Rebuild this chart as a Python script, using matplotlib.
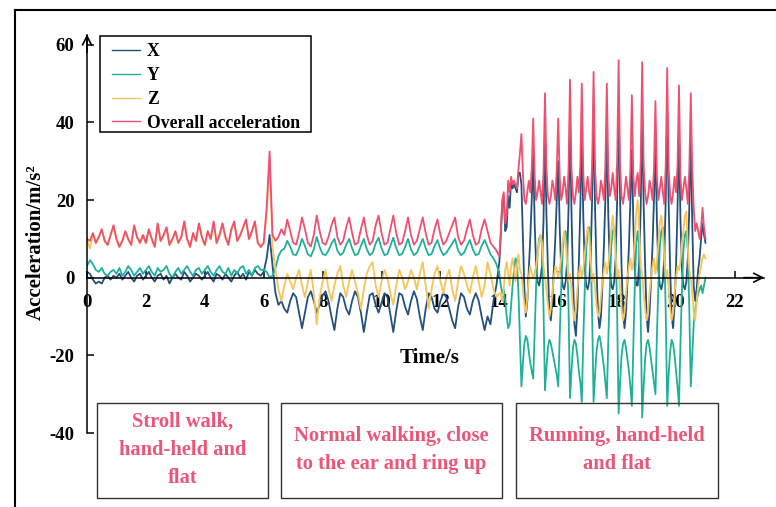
import numpy as np
import matplotlib
matplotlib.use("Agg")
import matplotlib.pyplot as plt
from matplotlib.patches import Rectangle
from matplotlib.lines import Line2D

#========= Data ===========
# 0 - 14 s sampled every 0.1 s, 14 - 21 s sampled every 0.05 s
t_slow = np.round(np.arange(0, 141) * 0.1, 2)
t_run = np.round(14.0 + np.arange(1, 141) * 0.05, 2)

x_slow = [1.5, 1.0, -0.5, -1.5, -1.0, -1.5, 0.0, 0.5, -0.5, 0.5,
          0.0, 1.0, -0.5, 0.5, 1.5, 0.0, -1.0, 0.5, 1.0, -0.5,
          0.5, 1.5, 0.0, -1.0, 0.5, 1.0, -0.5, 0.5, -1.5, 0.0,
          1.0, 0.0, -0.5, 1.5, 0.5, -1.0, 0.0, 1.0, 0.5, -0.5,
          0.5, 1.5, 0.0, -1.0, 1.0, 0.5, -0.5, 1.0, 0.0, -1.0,
          0.5, 1.5, 0.0, 1.0, -0.5, 1.5, 0.5, 2.0, 1.0, 0.5,
          1.5, 5.0, 11.0, 3.0, -4.0, -7.0, -6.0, -8.0, -9.0, -6.0,
          -4.0, -5.0, -9.0, -13.0, -9.0, -5.0, -3.5, -6.0, -9.0, -7.0,
          -4.5, -3.5, -6.0, -10.0, -13.5, -8.0, -4.0, -5.0, -8.0, -9.5,
          -6.0, -3.5, -5.0, -9.0, -14.0, -9.0, -4.5, -4.0, -7.0, -9.0,
          -6.5, -4.0, -5.0, -9.5, -14.0, -8.5, -4.0, -4.5, -7.5, -9.5,
          -6.0, -3.5, -5.5, -10.0, -13.5, -8.0, -4.0, -5.0, -8.0, -9.0,
          -6.0, -4.0, -5.0, -8.0, -11.0, -13.0, -7.5, -4.0, -5.0, -8.0,
          -9.5, -6.0, -4.0, -6.0, -10.0, -13.5, -10.0, -12.0, -6.0, -2.0,
          4.0]
y_slow = [3.0, 4.5, 3.5, 2.0, 1.5, 2.5, 1.0, 0.5, 1.5, 2.0,
          1.0, 2.5, 0.5, 1.5, 3.0, 2.0, 0.5, 1.5, 2.5, 1.0,
          2.0, 3.0, 1.5, 0.5, 2.5, 1.5, 2.0, 3.0, 1.0, 0.0,
          1.5, 2.5, 1.0, 2.0, 3.0, 1.5, 0.5, 2.0, 2.5, 1.0,
          2.0, 3.0, 1.5, 0.5, 2.0, 3.0, 1.5, 1.0, 2.5, 0.5,
          2.0, 1.0, 2.5, 3.0, 1.0, 2.0, 0.5, 2.5, 3.0, 2.0,
          2.0, 1.5, 0.0, 0.5, 2.5, 5.5, 7.0, 7.5, 9.5, 8.0,
          6.0, 5.8, 7.6, 10.0, 8.2, 6.0, 5.5, 7.3, 10.5, 7.9,
          6.1, 5.8, 7.0, 8.8, 10.0, 7.0, 5.8, 6.4, 8.5, 10.0,
          7.6, 5.8, 6.1, 8.2, 10.0, 7.3, 5.8, 6.4, 8.8, 10.3,
          7.6, 5.8, 6.1, 8.2, 10.3, 7.6, 5.8, 6.1, 7.9, 10.0,
          7.3, 5.8, 6.4, 8.2, 10.0, 7.6, 5.8, 6.1, 8.2, 9.7,
          7.3, 5.8, 6.4, 7.6, 8.8, 10.0, 7.0, 5.8, 6.4, 8.2,
          9.7, 7.3, 5.8, 6.1, 8.2, 9.7, 7.9, 6.0, 5.0, 3.5,
          1.0]
z_slow = [9.8, 7.5, 11.3, 8.8, 10.3, 12.3, 9.3, 8.3, 10.8, 13.3,
          9.8, 7.8, 9.3, 11.8, 9.8, 8.3, 13.3, 10.3, 8.8, 10.8,
          8.8, 12.3, 9.8, 7.8, 13.8, 9.3, 10.8, 12.8, 8.3, 9.8,
          11.8, 8.8, 10.3, 14.3, 9.8, 7.8, 11.3, 9.3, 13.8, 10.3,
          8.3, 11.8, 9.8, 14.3, 8.8, 10.8, 13.8, 10.3, 8.3, 12.3,
          14.3, 9.3, 10.8, 12.8, 14.8, 9.8, 11.8, 14.3, 8.8, 7.8,
          8.8, 16.5, 30.5, 8.0, 2.0, -3.0, -6.0, -2.0, 1.0, -1.0,
          -3, 0, 2, -2, -5, -1, 2, -4, -12, -5,
          -1, 2, -3, -6, -2, 1, 3, -2, -5, -1,
          2, -1, -4, -8, -3, 1, 3, 4, -2, -5,
          -1, 2, 0, -4, -7, -2, 2, 0, -3, -1,
          2, 0, -3, 1, 4, -2, -8, -3, 1, 3,
          -1, -4, 0, 2, -3, -6, -1, 3, 1, -2,
          -4, 0, 3, -1, -5, -2, 4, 1, -3, -5,
          -4]
overall_slow = [10.0, 9.5, 11.5, 9.0, 10.5, 12.5, 9.5, 8.5, 11.0, 13.5,
                10.0, 8.0, 9.5, 12.0, 10.0, 8.5, 13.5, 10.5, 9.0, 11.0,
                9.0, 12.5, 10.0, 8.0, 14.0, 9.5, 11.0, 13.0, 8.5, 10.0,
                12.0, 9.0, 10.5, 14.5, 10.0, 8.0, 11.5, 9.5, 14.0, 10.5,
                8.5, 12.0, 10.0, 14.5, 9.0, 11.0, 14.0, 10.5, 8.5, 12.5,
                14.5, 9.5, 11.0, 13.0, 15.0, 10.0, 12.0, 14.5, 9.0, 8.0,
                9.0, 18.0, 32.5, 11.0, 9.5, 10.5, 12.5, 11.0, 15.0, 12.0,
                9.0, 8.5, 11.5, 15.5, 12.5, 9.0, 8.0, 11.0, 16.0, 12.0,
                9.0, 8.5, 10.5, 13.5, 15.5, 10.5, 8.5, 9.5, 13.0, 15.5,
                11.5, 8.5, 9.0, 12.5, 15.5, 11.0, 8.5, 9.5, 13.5, 16.0,
                11.5, 8.5, 9.0, 12.5, 16.0, 11.5, 8.5, 9.0, 12.0, 15.5,
                11.0, 8.5, 9.5, 12.5, 15.5, 11.5, 8.5, 9.0, 12.5, 15.0,
                11.0, 8.5, 9.5, 11.5, 13.5, 15.5, 10.5, 8.5, 9.5, 12.5,
                15.0, 11.0, 8.5, 9.0, 12.5, 15.0, 12.0, 9.0, 8.0, 7.0,
                5.5]

x_run = [11, 19, 21, 12, 13, 21, 18, 25, 23, 24, 23, 22, 27, 27, 24, 10, -3, -10, -6, 2,
         10, 20, 32, 14, 3, -1, -2, 0, 3, 15, 38, 16, 2, -9, -11, -6, 2, 10, 20, 30,
         13, 2, -2, -3, -1, 4, 18, 40, 17, 0, -12, -15, -8, 4, 18, 38, 16, 3, -2, -3,
         -1, 5, 20, 42, 18, 2, -9, -13, -10, -2, 8, 20, 39, 16, 3, -2, -3, -1, 5, 20,
         44, 20, 3, -9, -13, -9, -1, 8, 20, 33, 14, 2, -2, -2, 4, 18, 42, 19, 3, -10,
         -14, -9, -1, 8, 20, 34, 15, 2, -2, -3, -1, 5, 20, 43, 19, 2, -10, -13, -7, 3,
         18, 37, 15, 2, -2, -3, -1, 5, 18, 38, 14, -2, -6, -3, 2, 5, 10, 14, 11, 9]
y_run = [-2, -4, -3, -6, -10, -13, -12, -7, -2, 2, 5, 4, -4, -16, -28, -22, -17, -15, -16, -19,
         -22, -24, -26, -14, -2, 6, 10, 11, 8, -8, -29, -23, -18, -16, -17, -19, -21, -23, -25, -28,
         -15, -3, 7, 11, 12, 8, -8, -31, -24, -18, -16, -17, -20, -24, -27, -32, -16, -3, 7, 12,
         13, 8, -9, -32, -25, -19, -16, -15, -17, -20, -23, -27, -31, -16, -3, 8, 12, 13, 9, -9,
         -35, -27, -20, -17, -16, -18, -21, -24, -28, -33, -17, -2, 9, 12, 8, -10, -36, -28, -21, -17,
         -16, -18, -21, -24, -27, -30, -15, -2, 8, 12, 13, 8, -9, -33, -25, -19, -16, -17, -20, -24,
         -28, -33, -17, -3, 7, 11, 12, 7, -8, -28, -20, -12, -8, -6, -4, -3, -2, -4, -2, 0]
z_run = [-4, -6, -3, 2, 4, 1, -2, 3, 5, 2, -1, 3, 6, 2, 1, -3, -7, -9, -5, 0,
         3, 1, 0, 1, 3, 6, 9, 11, 9, 3, 0, -3, -7, -10, -8, -4, 0, 3, 2, 0,
         2, 5, 9, 12, 9, 4, -1, 1, -3, -8, -11, -8, -3, 1, 3, 0, 2, 6, 10, 13,
         11, 5, -1, 1, -3, -7, -10, -9, -5, -1, 2, 4, 1, 3, 7, 12, 16, 12, 6, 0,
         2, -3, -8, -11, -9, -4, 0, 3, 5, 2, 4, 10, 17, 20, 12, 3, 1, -4, -8, -11,
         -9, -4, 0, 3, 5, 1, 4, 9, 14, 16, 12, 5, 0, 2, -3, -8, -11, -9, -4, 0,
         3, 2, 4, 9, 12, 16, 17, 8, 2, 0, -4, -9, -11, -6, -2, 1, 3, 5, 6, 5]
overall_run = [12, 20, 22, 14, 16, 25, 22, 26, 24, 25, 24, 23, 28, 32, 37, 27, 20, 19, 22, 25,
               22, 28, 41, 26, 20, 22, 25, 22, 19, 27, 47.5, 28, 21, 19, 21, 25, 23, 20, 28, 41,
               26, 20, 22, 26, 23, 19, 28, 51, 28, 21, 19, 22, 26, 22, 29, 50, 27, 20, 23, 26,
               22, 20, 29, 53, 28, 21, 19, 21, 25, 23, 20, 29, 50, 27, 21, 23, 27, 23, 20, 30,
               56, 29, 21, 19, 22, 26, 23, 20, 28, 47, 26, 21, 25, 27, 21, 30, 55.5, 29, 22, 19,
               21, 25, 23, 20, 28, 45.5, 26, 20, 23, 26, 22, 19, 29, 54, 28, 21, 19, 22, 26, 22,
               29, 49.5, 26, 20, 23, 26, 23, 19, 28, 47.5, 28, 18, 12, 14, 12, 10, 13, 18, 13, 10]

labels = ["X", "Y", "Z", "Overall acceleration"]
colors = ["#24507c", "#1fb09a", "#f5c55a", "#f0506f"]
phases = ["Stroll walk,\nhand-held and\nflat",
          "Normal walking, close\nto the ear and ring up",
          "Running, hand-held\nand flat"]
x_ticks = list(range(0, 23, 2))
y_ticks = [-40, -20, 0, 20, 40, 60]

#========= Figure ===========
plt.rcParams['font.family'] = ['Liberation Serif', 'DejaVu Serif']
plt.rcParams['font.weight'] = 'bold'
plt.rcParams['axes.unicode_minus'] = False

W, H = 776, 507
fig = plt.figure(figsize=(W / 100, H / 100), dpi=100)
ax = fig.add_axes([87 / W, 1 - 433 / H, 677.4 / W, 398 / H])

t = np.concatenate([t_slow, t_run])
series = [np.concatenate([x_slow, x_run]),
          np.concatenate([y_slow, y_run]),
          np.concatenate([z_slow, z_run]),
          np.concatenate([overall_slow, overall_run])]
handles = []
for s, lab, c in zip(series, labels, colors):
    ln, = ax.plot(t, s, color=c, lw=1.3, label=lab)
    handles.append(ln)

ax.set_xlim(0, 23)
ax.set_ylim(-40, 62.5)
ax.spines['left'].set_position(('data', 0))
ax.spines['bottom'].set_position(('data', 0))
ax.spines['top'].set_visible(False)
ax.spines['right'].set_visible(False)
ax.spines['left'].set_linewidth(1.1)
ax.spines['bottom'].set_linewidth(1.1)
ax.set_xticks(x_ticks)
ax.set_yticks(y_ticks)
ax.tick_params(axis='both', direction='in', length=5, width=1.1, labelsize=13.5)
ax.tick_params(axis='x', pad=12)
ax.tick_params(axis='y', pad=9)
ax.set_axisbelow(True)

# axis arrows
ax.annotate('', xy=(23.0, 0), xytext=(22.3, 0), annotation_clip=False,
            arrowprops=dict(arrowstyle='->', color='k', lw=1.2, mutation_scale=16,
                            shrinkA=0, shrinkB=0))
ax.annotate('', xy=(0, 62.7), xytext=(0, 58), annotation_clip=False,
            arrowprops=dict(arrowstyle='->', color='k', lw=1.2, mutation_scale=16,
                            shrinkA=0, shrinkB=0))

fig.text(430 / W, 1 - 358 / H, "Time/s", ha='center', va='center', fontsize=15)
fig.text(36 / W, 1 - 242 / H, "Acceleration/m/s²", ha='center', va='center',
         rotation=90, fontsize=15)

# legend
leg = ax.legend(handles=handles, loc='upper left', frameon=False,
                bbox_to_anchor=(112 / W, 1 - 43 / H), bbox_transform=fig.transFigure,
                borderpad=0, borderaxespad=0, handlelength=1.6, handletextpad=0.38,
                labelspacing=0.39, prop={'size': 12.7, 'weight': 'bold'})
for h in leg.get_lines():
    h.set_linewidth(1.0)
fig.add_artist(Rectangle((100 / W, 1 - 132 / H), 211 / W, 96 / H, transform=fig.transFigure,
                         fill=False, edgecolor='k', lw=1.1))

# phase boxes
boxes = [(97, 268), (281, 502), (516, 718)]
for (x0, x1), txt in zip(boxes, phases):
    fig.add_artist(Rectangle((x0 / W, 1 - 498 / H), (x1 - x0) / W, 95 / H,
                             transform=fig.transFigure, fill=False,
                             edgecolor='#333333', lw=1.0))
    fig.text((x0 + x1) / 2 / W, 1 - 450 / H, txt, ha='center', va='center',
             fontsize=14.8, color='#eb5577', linespacing=1.55)

# outer frame
fig.add_artist(Line2D([15 / W, 15 / W], [0, 1 - 10.3 / H], transform=fig.transFigure,
                      color='k', lw=1.5))
fig.add_artist(Line2D([15 / W, 1], [1 - 10.3 / H, 1 - 10.3 / H], transform=fig.transFigure,
                      color='k', lw=1.5))

fig.savefig("out.png", dpi=100)
